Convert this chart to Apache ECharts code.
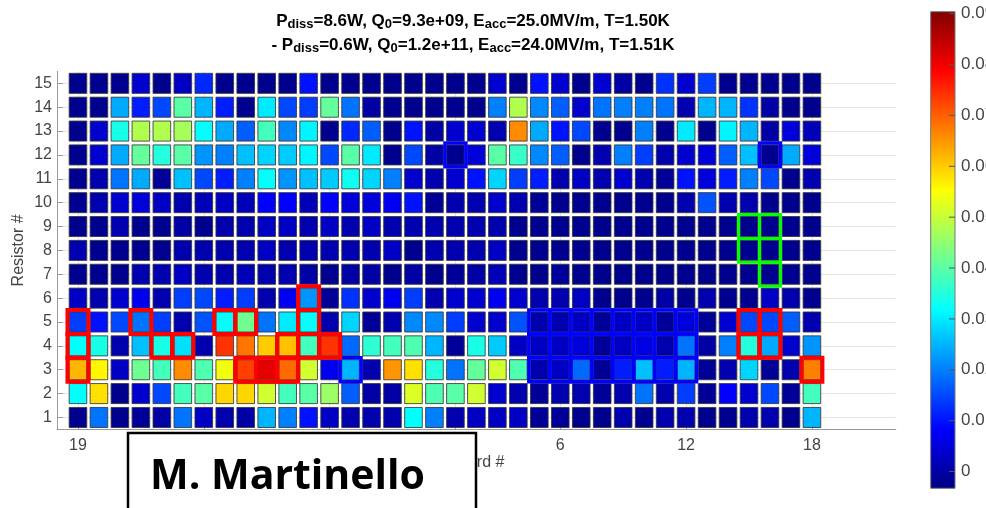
<!DOCTYPE html>
<html><head><meta charset="utf-8">
<script src="https://cdn.jsdelivr.net/npm/echarts@6/dist/echarts.min.js"></script>
<style>html,body{margin:0;padding:0;background:#fff}#c{width:986px;height:508px}</style>
</head><body><div id="c"></div>
<script>
// Board numbers along x (position 1..36)
const boards = [19,20,21,22,23,24,25,26,27,28,29,30,31,32,33,34,35,36,1,2,3,4,5,6,7,8,9,10,11,12,13,14,15,16,17,18];
const xTickPos = [1,7,13,19,24,30,36];
const xTickLabels = ['19','25','31','1','6','12','18'];
const yTicks = [1,2,3,4,5,6,7,8,9,10,11,12,13,14,15];
const cbTicks = [0,0.01,0.02,0.03,0.04,0.05,0.06,0.07,0.08,0.09];
const cbMin = -0.0033, cbMax = 0.0904;

// values per resistor row (left to right along boards)
const r15 = [-0.002,-0.002,-0.002,0.004,-0.002,0.003,0.012,-0.002,-0.002,-0.002, -0.002,0.010,-0.002,-0.002,-0.002,-0.002,-0.002,-0.002,-0.002,-0.002, 0.004,-0.002,0.010,0.004,-0.002,0.004,0.000,-0.002,0.013,0.004, 0.014,-0.002,-0.002,-0.002,-0.002,-0.002];
const r14 = [-0.002,-0.002,0.024,0.011,0.015,0.040,0.025,0.011,-0.002,0.030, 0.015,0.014,0.041,0.019,0.000,-0.002,-0.002,-0.002,-0.002,-0.002, 0.020,0.048,0.021,0.017,0.004,0.019,0.020,0.020,0.019,0.001, 0.025,0.025,0.013,0.000,-0.002,-0.002];
const r13 = [-0.002,0.004,0.034,0.048,0.048,0.047,0.032,0.024,0.017,0.038, 0.021,0.031,-0.002,0.012,0.017,-0.002,0.010,0.000,0.004,0.004, 0.001,0.066,0.024,0.010,0.015,-0.002,-0.002,0.020,-0.002,0.030, -0.002,0.031,0.025,0.000,0.005,0.002];
const r12 = [-0.002,0.004,0.024,0.041,0.035,0.040,0.022,0.020,0.026,0.028, 0.027,0.031,0.015,0.040,0.030,-0.002,0.015,0.000,-0.002,0.005, 0.040,0.037,0.021,0.017,-0.002,0.001,0.020,0.014,0.001,0.004, 0.005,0.017,0.026,-0.002,0.024,0.005];
const r11 = [-0.002,0.001,0.019,0.024,-0.001,0.026,0.015,0.011,0.020,0.032, 0.022,0.026,0.027,0.033,0.028,0.020,0.004,0.001,0.004,0.010, 0.028,0.014,0.011,0.001,0.003,0.001,0.004,0.001,-0.001,0.010, 0.005,0.011,0.020,0.015,-0.002,0.001];
const r10 = [-0.002,0.001,0.004,0.005,0.003,0.001,0.002,0.003,0.002,0.008, 0.008,0.002,0.008,0.005,0.005,0.007,0.010,-0.001,0.001,0.001, 0.004,0.001,-0.001,-0.002,-0.002,-0.002,-0.002,-0.002,-0.002,0.001, 0.016,0.001,0.001,-0.002,-0.002,-0.002];
const r9  = [-0.002,-0.002,0.001,-0.002,-0.002,0.000,-0.002,0.001,0.001,0.003, 0.003,0.001,0.003,0.001,0.003,0.001,0.001,0.001,0.001,0.001, 0.001,-0.002,-0.002,-0.002,-0.002,-0.002,-0.002,-0.002,-0.002,-0.002, -0.002,-0.002,-0.002,-0.002,-0.002,-0.002];
const r8  = [0.001,-0.002,-0.002,-0.002,-0.002,0.001,0.001,0.001,0.001,0.003, 0.001,0.001,0.001,0.001,0.001,0.003,-0.002,0.001,0.001,0.001, 0.003,-0.002,-0.002,-0.002,-0.002,-0.002,-0.002,-0.002,-0.002,-0.002, -0.002,-0.002,-0.002,-0.002,-0.002,-0.002];
const r7  = [-0.002,-0.002,-0.002,0.001,0.001,0.003,0.001,0.001,0.002,0.001, 0.001,0.000,-0.002,0.000,0.000,-0.002,0.000,-0.002,-0.001,0.000, 0.002,-0.002,-0.002,-0.001,-0.002,-0.002,-0.002,-0.002,-0.002,-0.002, -0.002,-0.002,-0.002,-0.002,-0.002,-0.002];
const r6  = [0.003,0.001,0.004,0.007,0.001,0.014,0.015,0.011,0.014,0.001, 0.007,0.022,-0.001,0.013,0.004,0.007,0.014,0.001,0.004,0.004, 0.007,0.004,0.001,0.001,0.003,-0.002,-0.002,-0.002,0.000,-0.002, 0.001,-0.002,-0.002,0.003,0.001,-0.002];
const r5  = [0.014,0.010,0.015,0.019,0.014,0.001,0.016,0.032,0.042,0.019, 0.030,0.032,0.001,0.028,-0.001,0.001,0.021,0.021,0.014,0.004, 0.004,0.016,0.001,0.001,0.003,-0.001,0.003,0.003,-0.001,0.005, -0.001,0.004,0.015,0.015,0.017,0.001];
const r4  = [0.032,0.034,0.001,0.026,0.034,0.029,0.001,0.074,0.068,0.060, 0.061,0.038,0.074,0.018,0.036,0.038,0.039,0.025,-0.001,0.034, 0.027,0.003,0.003,0.003,0.005,-0.001,0.003,0.006,0.001,0.019, 0.000,0.020,0.035,0.024,0.004,0.022];
const r3  = [0.062,0.056,0.003,0.042,0.038,0.066,0.039,0.054,0.073,0.081, 0.069,0.051,0.007,0.025,0.001,0.065,0.058,0.035,0.019,0.041, 0.051,0.039,0.001,0.003,0.018,-0.001,0.011,0.026,0.011,0.025, -0.001,0.001,0.028,-0.001,0.001,0.067];
const r2  = [0.032,0.058,-0.002,0.004,0.015,0.038,0.040,0.059,0.059,0.051, 0.038,0.040,0.046,0.017,0.000,0.000,0.052,0.039,0.040,0.051, 0.004,0.001,-0.001,0.001,0.001,-0.001,0.001,0.019,0.001,0.014, -0.001,0.008,0.004,0.015,-0.001,0.038];
const r1  = [-0.002,0.019,-0.002,-0.001,0.000,0.019,0.003,0.001,0.000,0.025, 0.020,0.010,0.003,0.001,0.001,0.001,0.032,0.020,0.001,0.003, 0.003,0.003,-0.001,-0.001,-0.002,-0.002,0.001,-0.002,0.001,0.001, -0.002,-0.002,0.001,0.001,-0.002,0.025];
const rowsBottomUp = [r1,r2,r3,r4,r5,r6,r7,r8,r9,r10,r11,r12,r13,r14,r15];

// highlighted cells: [board position, resistor #]
const redCells = [[1,3],[1,4],[1,5],[4,5],[5,4],[6,4],[8,5],[9,5],[12,6],[12,5],[11,4],[12,4],[13,4],[9,3],[10,3],[11,3],[33,5],[34,5],[33,4],[34,4],[36,3]];
const blueCells = [[14,3],[19,12],[34,12],
  [23,3],[24,3],[25,3],[26,3],[27,3],[28,3],[29,3],[30,3],
  [23,4],[24,4],[25,4],[26,4],[27,4],[28,4],[29,4],[30,4],
  [23,5],[24,5],[25,5],[26,5],[27,5],[28,5],[29,5],[30,5]];
const greenCells = [[33,9],[34,9],[33,8],[34,8],[34,7]];

const jet = ['#000080','#0000ff','#0080ff','#00ffff','#80ff80','#ffff00','#ff8000','#ff0000','#800000'];

const cellData = [];
rowsBottomUp.forEach((row, ri) => row.forEach((v, ci) => cellData.push([ci + 1, ri + 1, v])));

const FONT = '"Liberation Sans", Arial, Helvetica, sans-serif';
const chart = echarts.init(document.getElementById('c'), null, {renderer: 'canvas'});

function cellItem(params, api) {
  const c = api.coord([api.value(0), api.value(1)]);
  const s = api.size([1, 1]);
  const w = s[0] * 0.84, h = s[1] * 0.84;
  return {type: 'rect', shape: {x: c[0] - w / 2, y: c[1] - h / 2, width: w, height: h},
    style: {fill: api.visual('color'), stroke: 'rgba(55,55,55,0.85)', lineWidth: 1}};
}
function outline(color, lw) {
  return function (params, api) {
    const c = api.coord([api.value(0), api.value(1)]);
    const s = api.size([1, 1]);
    return {type: 'rect', shape: {x: c[0] - s[0] / 2, y: c[1] - s[1] / 2, width: s[0], height: s[1]},
      style: {fill: 'none', stroke: color, lineWidth: lw}};
  };
}

const rich = {
  m: {fontFamily: FONT, fontWeight: 'bold', fontSize: 17, color: '#000', lineHeight: 20},
  s: {fontFamily: FONT, fontWeight: 'bold', fontSize: 13, color: '#000', lineHeight: 13, padding: [10, 0, 0, 0], verticalAlign: 'bottom'}
};

const option = {
  animation: false,
  backgroundColor: '#fff',
  grid: [
    {left: 57, top: 71.4, width: 838.8, height: 358, outerBoundsMode: 'none', containLabel: false},
    {left: 930.7, top: 11.7, width: 24.3, height: 476.6, outerBoundsMode: 'none', containLabel: false}
  ],
  xAxis: [
    {type: 'value', gridIndex: 0, min: 0, max: 40, name: 'Board #', nameLocation: 'middle', nameGap: 25,
      nameMoveOverlap: false,
      nameTextStyle: {fontFamily: FONT, fontSize: 16, color: '#444'},
      axisLine: {show: true, lineStyle: {color: '#999', width: 1}},
      axisTick: {show: true, inside: true, length: 6, lineStyle: {color: '#999'}, customValues: xTickPos},
      axisLabel: {show: true, customValues: xTickPos, margin: 8, fontFamily: FONT, fontSize: 16, color: '#444',
        formatter: v => xTickLabels[xTickPos.indexOf(Math.round(v))] || ''},
      splitLine: {show: true, lineStyle: {color: '#e4e4e4', width: 1}}},
    {type: 'value', gridIndex: 1, min: 0, max: 1, show: false}
  ],
  yAxis: [
    {type: 'value', gridIndex: 0, min: 0.5, max: 15.5, name: 'Resistor #', nameLocation: 'middle', nameGap: 30,
      nameMoveOverlap: false,
      nameRotate: 90, nameTextStyle: {fontFamily: FONT, fontSize: 16, color: '#444'},
      axisLine: {show: true, lineStyle: {color: '#999', width: 1}},
      axisTick: {show: true, inside: true, length: 6, lineStyle: {color: '#999'}, customValues: yTicks},
      axisLabel: {show: true, customValues: yTicks, margin: 5, fontFamily: FONT, fontSize: 16, color: '#444'},
      splitLine: {show: true, lineStyle: {color: '#e4e4e4', width: 1}}},
    {type: 'value', gridIndex: 1, min: cbMin, max: cbMax, position: 'right',
      axisLine: {show: false},
      axisTick: {show: false},
      axisLabel: {show: true, customValues: cbTicks, margin: 6, fontFamily: FONT, fontSize: 17, color: '#444',
        formatter: v => String(Math.round(v * 100) / 100)},
      splitLine: {show: false}}
  ],
  visualMap: {type: 'continuous', show: false, seriesIndex: 0, dimension: 2, min: cbMin, max: cbMax,
    inRange: {color: jet}},
  graphic: [
    {type: 'text', x: 473, y: 11, z: 10, style: {
      text: '{m|P}{s|diss}{m|=8.6W, Q}{s|0}{m|=9.3e+09, E}{s|acc}{m|=25.0MV/m, T=1.50K}',
      rich: rich, align: 'center', verticalAlign: 'top'}},
    {type: 'text', x: 473, y: 35, z: 10, style: {
      text: '{m|- P}{s|diss}{m|=0.6W, Q}{s|0}{m|=1.2e+11, E}{s|acc}{m|=24.0MV/m, T=1.51K}',
      rich: rich, align: 'center', verticalAlign: 'top'}},
    {type: 'rect', z: 100, shape: {x: 128, y: 433, width: 348, height: 120},
      style: {fill: '#fff', stroke: '#000', lineWidth: 2.5}},
    {type: 'text', z: 101, x: 150, y: 477, style: {text: 'M. Martinello', fill: '#000',
      font: 'bold 41px "Open Sans", "Liberation Sans", sans-serif', align: 'left', verticalAlign: 'middle'}}
  ],
  series: [
    {type: 'custom', xAxisIndex: 0, yAxisIndex: 0, data: cellData, renderItem: cellItem, z: 2},
    {type: 'custom', xAxisIndex: 0, yAxisIndex: 0, data: blueCells, renderItem: outline('#0000ff', 3.5), z: 3},
    {type: 'custom', xAxisIndex: 0, yAxisIndex: 0, data: greenCells, renderItem: outline('#00ff00', 3), z: 3},
    {type: 'custom', xAxisIndex: 0, yAxisIndex: 0, data: redCells, renderItem: outline('#ff0000', 4), z: 4},
    {type: 'custom', xAxisIndex: 1, yAxisIndex: 1, data: [[0, cbMin, cbMax]], z: 1,
      renderItem: function (params, api) {
        const a = api.coord([0, api.value(2)]);
        const b = api.coord([1, api.value(1)]);
        return {type: 'rect', shape: {x: a[0], y: a[1], width: b[0] - a[0], height: b[1] - a[1]},
          style: {fill: new echarts.graphic.LinearGradient(0, 1, 0, 0,
            jet.map((c, i) => ({offset: i / (jet.length - 1), color: c}))), stroke: '#777', lineWidth: 1}};
      }},
    // colorbar tick marks on the inner right edge
    {type: 'custom', xAxisIndex: 1, yAxisIndex: 1, data: cbTicks.map(v => [1, v]), z: 5,
      renderItem: function (params, api) {
        const p = api.coord([1, api.value(1)]);
        return {type: 'line', shape: {x1: p[0] - 6, y1: p[1], x2: p[0], y2: p[1]},
          style: {stroke: '#555', lineWidth: 1}};
      }}
  ]
};
chart.setOption(option);
</script></body></html>
